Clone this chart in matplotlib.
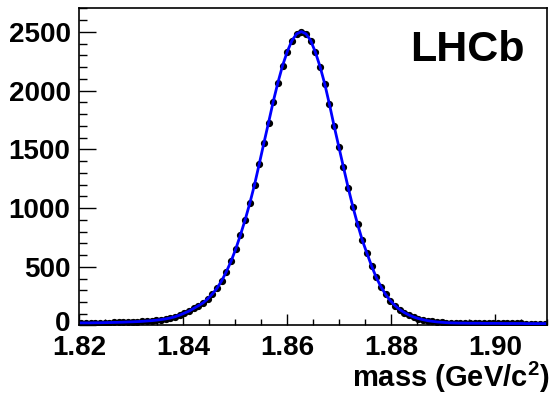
import numpy
import matplotlib
matplotlib.use('Agg')
from matplotlib import pyplot
from matplotlib.transforms import ScaledTranslation

# histogram: 100 bins between 1.82 and 1.91 GeV/c^2
mass_lo = 1.82
mass_hi = 1.91
nbins = 100
counts = [22, 22, 22, 23, 23, 24, 25, 26, 27, 28,
          30, 31, 33, 35, 38, 41, 45, 50, 56, 64,
          74, 88, 105, 122, 145, 168, 192, 227, 269, 318,
          382, 459, 548, 652, 772, 900, 1042, 1198, 1374, 1553,
          1728, 1907, 2069, 2214, 2333, 2427, 2484, 2503, 2484, 2427,
          2328, 2205, 2058, 1885, 1700, 1524, 1348, 1175, 1013, 865,
          729, 617, 508, 410, 330, 265, 212, 170, 136, 110,
          89, 72, 59, 49, 41, 35, 30, 27, 24, 22,
          21, 20, 20, 19, 19, 19, 18, 18, 18, 18,
          17, 17, 17, 17, 17, 16, 16, 16, 16, 16]
yticks = [0, 500, 1000, 1500, 2000, 2500]
xticks = [1.82, 1.84, 1.86, 1.88, 1.90]
xticklabels = ['1.82', '1.84', '1.86', '1.88', '1.90']

matplotlib.rcParams['font.family'] = ['Liberation Sans', 'DejaVu Sans']
matplotlib.rcParams['font.weight'] = 'bold'
matplotlib.rcParams['mathtext.fontset'] = 'custom'
matplotlib.rcParams['mathtext.rm'] = 'Liberation Sans:bold'
matplotlib.rcParams['mathtext.it'] = 'Liberation Sans:bold'
matplotlib.rcParams['mathtext.bf'] = 'Liberation Sans:bold'
matplotlib.rcParams['mathtext.default'] = 'rm'

edges = numpy.linspace(mass_lo, mass_hi, nbins + 1)
centres = 0.5 * (edges[1:] + edges[:-1])
halfwidth = 0.5 * (edges[1] - edges[0])
y = numpy.array(counts, dtype=float)

fig = pyplot.figure(figsize=(5.56, 3.95), dpi=100)
ax = fig.add_axes([0.142, 0.176, 0.842, 0.804])

ax.errorbar(centres, y, xerr=halfwidth, fmt='o',
            color='black', markersize=4.2, elinewidth=1.0, capsize=0, zorder=2)
ax.plot(centres, y, color='#0000ff', lw=2.0, zorder=3)

ax.set_xlim(mass_lo, mass_hi)
ax.set_ylim(0, 2705)
ax.set_xticks(xticks)
ax.set_xticklabels(xticklabels)
ax.set_yticks(yticks)
ax.xaxis.set_minor_locator(matplotlib.ticker.MultipleLocator(0.005))
ax.yaxis.set_minor_locator(matplotlib.ticker.MultipleLocator(100))
ax.tick_params(which='both', direction='in', top=False, right=False,
               labelsize=20, width=1.0)
ax.tick_params(axis='y', which='major', length=12, pad=6)
ax.tick_params(axis='y', which='minor', length=6)
ax.tick_params(axis='x', which='major', length=8, pad=7)
ax.tick_params(axis='x', which='minor', length=4.5)
for lab in ax.get_yticklabels():
    lab.set_verticalalignment('center_baseline')
# nudge the "0" label up a little, it sits close to "1.82"
zero = ax.yaxis.get_major_ticks()[0].label1
zero.set_transform(zero.get_transform() + ScaledTranslation(0, 3/72., fig.dpi_scale_trans))
for sp in ax.spines.values():
    sp.set_linewidth(1.2)

ax.text(0.83, 0.866, 'LHCb', transform=ax.transAxes, ha='center', va='center',
        fontsize=31, fontweight='bold')
fig.text(0.988, 0.0, r'mass (GeV/c$^{2}$)', ha='right', va='bottom',
         fontsize=21, fontweight='bold')

fig.savefig('out.png', dpi=100)
